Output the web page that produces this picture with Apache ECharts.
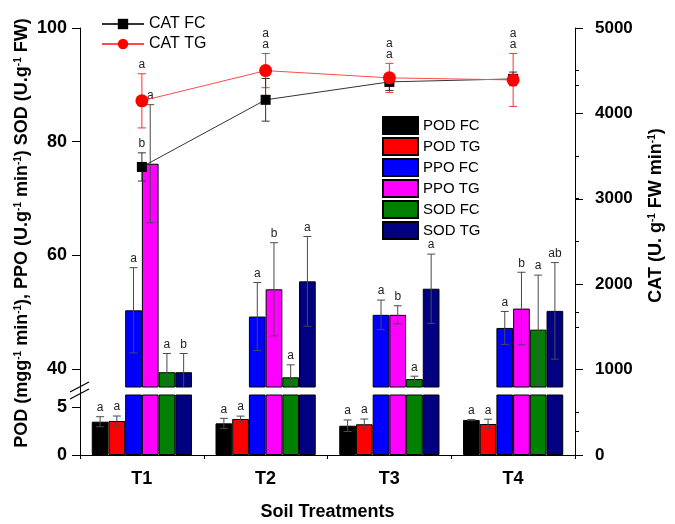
<!DOCTYPE html>
<html>
<head>
<meta charset="utf-8">
<script src="https://cdn.jsdelivr.net/npm/echarts@6/dist/echarts.min.js"></script>
<style>
  html, body { margin: 0; padding: 0; background: #fff; }
  #chart-container { width: 675px; height: 524px; }
</style>
</head>
<body>
<div id="chart-container"></div>
<script>
const categories = ['T1', 'T2', 'T3', 'T4'];

// bar series (left axis)
const podFC = [3.47, 3.30, 3.05, 3.65];
const podFCErr = [0.52, 0.52, 0.60, 0.05];
const podFCLetters = ['a', 'a', 'a', 'a'];
const podTG = [3.54, 3.75, 3.20, 3.23];
const podTGErr = [0.52, 0.30, 0.55, 0.50];
const podTGLetters = ['a', 'a', 'a', 'a'];
const ppoFC = [50.3, 49.2, 49.5, 47.2];
const ppoFCErr = [7.5, 6.0, 2.6, 2.9];
const ppoFCLetters = ['a', 'a', 'a', 'a'];
const ppoTG = [76.1, 54.0, 49.5, 50.6];
const ppoTGErr = [10.4, 8.2, 1.6, 6.4];
const ppoTGLetters = ['a', 'b', 'b', 'b'];
const sodFC = [39.4, 38.5, 38.2, 46.9];
const sodFCErr = [3.3, 2.2, 0.5, 9.6];
const sodFCLetters = ['a', 'a', 'a', 'a'];
const sodTG = [39.4, 55.4, 54.1, 50.2];
const sodTGErr = [3.3, 7.9, 6.1, 8.5];
const sodTGLetters = ['b', 'a', 'a', 'ab'];

// line series (right axis)
const catFC = [3373, 4159, 4369, 4404];
const catFCErr = [165, 250, 100, 80];
const catFCLetters = ['b', 'a', 'a', 'a'];
const catTG = [4147, 4501, 4416, 4392];
const catTGErr = [317, 200, 170, 310];
const catTGLetters = ['a', 'a', 'a', 'a'];

const leftTicks = [40, 60, 80, 100];
const leftMinorTicks = [50, 70, 90];
const lowTicks = [0, 5];
const lowMinorTicks = [2.5];

const FONT = 'Liberation Sans, Arial, sans-serif';
const CAT_GAP = 0.19;

const start = () => {
  const chartDom = document.getElementById('chart-container');
  const myChart = echarts.init(chartDom, null, { renderer: 'canvas' });

  const barSets = [
    { name: 'POD FC', color: '#000000', vals: podFC, errs: podFCErr, letters: podFCLetters },
    { name: 'POD TG', color: '#ff0000', vals: podTG, errs: podTGErr, letters: podTGLetters },
    { name: 'PPO FC', color: '#0000ff', vals: ppoFC, errs: ppoFCErr, letters: ppoFCLetters },
    { name: 'PPO TG', color: '#ff00ff', vals: ppoTG, errs: ppoTGErr, letters: ppoTGLetters },
    { name: 'SOD FC', color: '#008000', vals: sodFC, errs: sodFCErr, letters: sodFCLetters },
    { name: 'SOD TG', color: '#000080', vals: sodTG, errs: sodTGErr, letters: sodTGLetters }
  ];

  const series = [];
  // each bar set drawn in the upper and lower grid, clipped by its axis range
  [0, 1].forEach((g) => {
    barSets.forEach((b) => {
      series.push({
        type: 'bar',
        name: b.name,
        xAxisIndex: g,
        yAxisIndex: g,
        data: b.vals,
        clip: true,
        barGap: 0,
        barCategoryGap: (CAT_GAP * 100) + '%',
        itemStyle: { color: b.color, borderColor: '#000', borderWidth: 1 },
        z: 2
      });
    });
  });

  const recsUp = [];
  const recsLow = [];
  barSets.forEach((b, k) => {
    b.vals.forEach((v, i) => {
      const r = { cat: i, k: k, val: v, err: b.errs[i], letter: b.letters[i] };
      (k < 2 ? recsLow : recsUp).push(r);
    });
  });

  const barErr = (recs) => (params, api) => {
    const r = recs[params.dataIndex];
    const c = api.coord([r.cat, r.val]);
    const band = api.size([1, 0])[0];
    const bw = band * (1 - CAT_GAP) / 6;
    const x = c[0] - 3 * bw + (r.k + 0.5) * bw;
    const yTop = api.coord([r.cat, r.val + r.err])[1];
    const yBot = api.coord([r.cat, r.val - r.err])[1];
    const st = { stroke: '#4a4a4a', lineWidth: 1 };
    return {
      type: 'group',
      children: [
        { type: 'line', shape: { x1: x, y1: yTop, x2: x, y2: yBot }, style: st },
        { type: 'line', shape: { x1: x - 4, y1: yTop, x2: x + 4, y2: yTop }, style: st },
        { type: 'line', shape: { x1: x - 4, y1: yBot, x2: x + 4, y2: yBot }, style: st },
        { type: 'text', x: x, y: yTop - 3, style: { text: r.letter, fill: '#222', font: '12px ' + FONT, align: 'center', verticalAlign: 'bottom' } }
      ]
    };
  };

  series.push({
    type: 'custom', xAxisIndex: 0, yAxisIndex: 0, clip: true, z: 3,
    data: recsUp.map((r) => [r.cat, r.val]),
    renderItem: barErr(recsUp)
  });
  series.push({
    type: 'custom', xAxisIndex: 1, yAxisIndex: 1, z: 3,
    data: recsLow.map((r) => [r.cat, r.val]),
    renderItem: barErr(recsLow)
  });

  // CAT lines
  series.push({
    type: 'line', name: 'CAT FC', xAxisIndex: 2, yAxisIndex: 2, data: catFC,
    symbol: 'rect', symbolSize: 10, z: 6,
    itemStyle: { color: '#000' }, lineStyle: { color: '#333', width: 1 }
  });
  series.push({
    type: 'line', name: 'CAT TG', xAxisIndex: 2, yAxisIndex: 2, data: catTG,
    symbol: 'circle', symbolSize: 13, z: 6,
    itemStyle: { color: '#ff0000' }, lineStyle: { color: '#ff4a4a', width: 1 }
  });

  const catRecs = [];
  categories.forEach((c, i) => {
    catRecs.push({ cat: i, val: catTG[i], err: catTGErr[i], letter: catTGLetters[i], color: '#ff3030', lift: 0 });
    const stacked = catFC[i] + catFCErr[i] > catTG[i] - catTGErr[i] - 100;
    catRecs.push({
      cat: i, val: catFC[i], err: catFCErr[i], letter: catFCLetters[i], color: '#333',
      anchor: stacked ? catTG[i] + catTGErr[i] : null, lift: stacked ? 11 : 0
    });
  });
  series.push({
    type: 'custom', xAxisIndex: 2, yAxisIndex: 2, z: 5,
    data: catRecs.map((r) => [r.cat, r.val]),
    renderItem: (params, api) => {
      const r = catRecs[params.dataIndex];
      const x = api.coord([r.cat, r.val])[0];
      const yTop = api.coord([r.cat, r.val + r.err])[1];
      const yBot = api.coord([r.cat, r.val - r.err])[1];
      const yLab = (r.anchor != null ? api.coord([r.cat, r.anchor])[1] : yTop) - 3 - r.lift;
      const st = { stroke: r.color, lineWidth: 1 };
      return {
        type: 'group',
        children: [
          { type: 'line', shape: { x1: x, y1: yTop, x2: x, y2: yBot }, style: st },
          { type: 'line', shape: { x1: x - 4, y1: yTop, x2: x + 4, y2: yTop }, style: st },
          { type: 'line', shape: { x1: x - 4, y1: yBot, x2: x + 4, y2: yBot }, style: st },
          { type: 'text', x: x, y: yLab, style: { text: r.letter, fill: '#222', font: '12px ' + FONT, align: 'center', verticalAlign: 'bottom' } }
        ]
      };
    }
  });

  const sup = { fontSize: 10, fontWeight: 'bold', verticalAlign: 'top', fontFamily: FONT };
  const tickLabel = { fontSize: 18, fontWeight: 'bold', color: '#000', fontFamily: FONT };

  const option = {
    animation: false,
    textStyle: { fontFamily: FONT },
    grid: [
      { left: 80, right: 100, top: 28, height: 359 },
      { left: 80, right: 100, top: 395, height: 60 },
      { left: 80, right: 100, top: 28, height: 427 }
    ],
    legend: [
      {
        data: ['CAT FC', 'CAT TG'], orient: 'vertical', left: 96, top: 11,
        itemWidth: 42, itemHeight: 13, itemGap: 4,
        textStyle: { fontSize: 16, color: '#000' }
      },
      {
        data: barSets.map((b) => b.name), orient: 'vertical', left: 377, top: 111,
        icon: 'rect', itemWidth: 35, itemHeight: 17, itemGap: 2,
        textStyle: { fontSize: 15, color: '#000' }
      }
    ],
    xAxis: [
      { type: 'category', gridIndex: 0, data: categories, show: false },
      {
        type: 'category', gridIndex: 1, data: categories,
        axisLine: { lineStyle: { color: '#000', width: 1 } },
        axisTick: { alignWithLabel: true, length: 6, lineStyle: { color: '#000' } },
        axisLabel: Object.assign({ margin: 15 }, tickLabel),
        name: 'Soil Treatments', nameLocation: 'middle', nameGap: 48,
        nameTextStyle: { fontSize: 18, fontWeight: 'bold', color: '#000' }
      },
      {
        type: 'category', gridIndex: 2, data: categories,
        axisLine: { show: false },
        axisTick: { show: true, length: 4, lineStyle: { color: '#000' } },
        axisLabel: { show: false }
      }
    ],
    yAxis: [
      {
        type: 'value', gridIndex: 0, min: 36.8, max: 100,
        axisLine: { show: false }, splitLine: { show: false },
        axisTick: { show: true, length: 8, customValues: leftTicks, lineStyle: { color: '#000' } },
        axisLabel: Object.assign({ margin: 13, customValues: leftTicks }, tickLabel)
      },
      {
        type: 'value', gridIndex: 1, min: 0, max: 6.25,
        axisLine: { show: false }, splitLine: { show: false },
        axisTick: { show: true, length: 8, customValues: lowTicks, lineStyle: { color: '#000' } },
        axisLabel: Object.assign({ margin: 13, customValues: lowTicks }, tickLabel)
      },
      {
        type: 'value', gridIndex: 2, position: 'right', min: 0, max: 5000, interval: 1000,
        axisLine: { show: true, lineStyle: { color: '#000', width: 1 } },
        splitLine: { show: false },
        axisTick: { show: true, length: 8, lineStyle: { color: '#000' } },
        minorTick: { show: true, splitNumber: 2, length: 4, lineStyle: { color: '#000' } },
        axisLabel: { margin: 20, fontSize: 17, fontWeight: 'bold', color: '#000', formatter: (v) => String(v) },
        name: 'CAT (U. g{s|-1} FW min{s|-1})', nameLocation: 'middle', nameGap: 72,
        nameTextStyle: { fontSize: 18, fontWeight: 'bold', color: '#000', padding: [0, 0, 0, 52], rich: { s: sup } }
      },
      {
        type: 'value', gridIndex: 2, position: 'left', min: 0, max: 1,
        axisLine: { show: true, lineStyle: { color: '#000', width: 1 } },
        axisTick: { show: false }, axisLabel: { show: false }, splitLine: { show: false },
        name: 'POD (mgg{s|-1} min{s|-1}), PPO (U.g{s|-1} min{s|-1}) SOD (U.g{s|-1} FW)',
        nameLocation: 'middle', nameGap: 49,
        nameTextStyle: { fontSize: 18, fontWeight: 'bold', color: '#000', padding: [0, 0, 0, 17], rich: { s: sup } }
      },
      {
        type: 'value', gridIndex: 0, min: 36.8, max: 100,
        axisLine: { show: false }, splitLine: { show: false }, axisLabel: { show: false },
        axisTick: { show: true, length: 4, customValues: leftMinorTicks, lineStyle: { color: '#000' } }
      },
      {
        type: 'value', gridIndex: 1, min: 0, max: 6.25,
        axisLine: { show: false }, splitLine: { show: false }, axisLabel: { show: false },
        axisTick: { show: true, length: 4, customValues: lowMinorTicks, lineStyle: { color: '#000' } }
      }
    ],
    graphic: [
      { type: 'line', shape: { x1: 70, y1: 392, x2: 89, y2: 382 }, style: { stroke: '#000', lineWidth: 1.2 } },
      { type: 'line', shape: { x1: 70, y1: 399, x2: 89, y2: 389 }, style: { stroke: '#000', lineWidth: 1.2 } }
    ],
    series: series
  };
  myChart.setOption(option);
};

start();
</script>
</body>
</html>
